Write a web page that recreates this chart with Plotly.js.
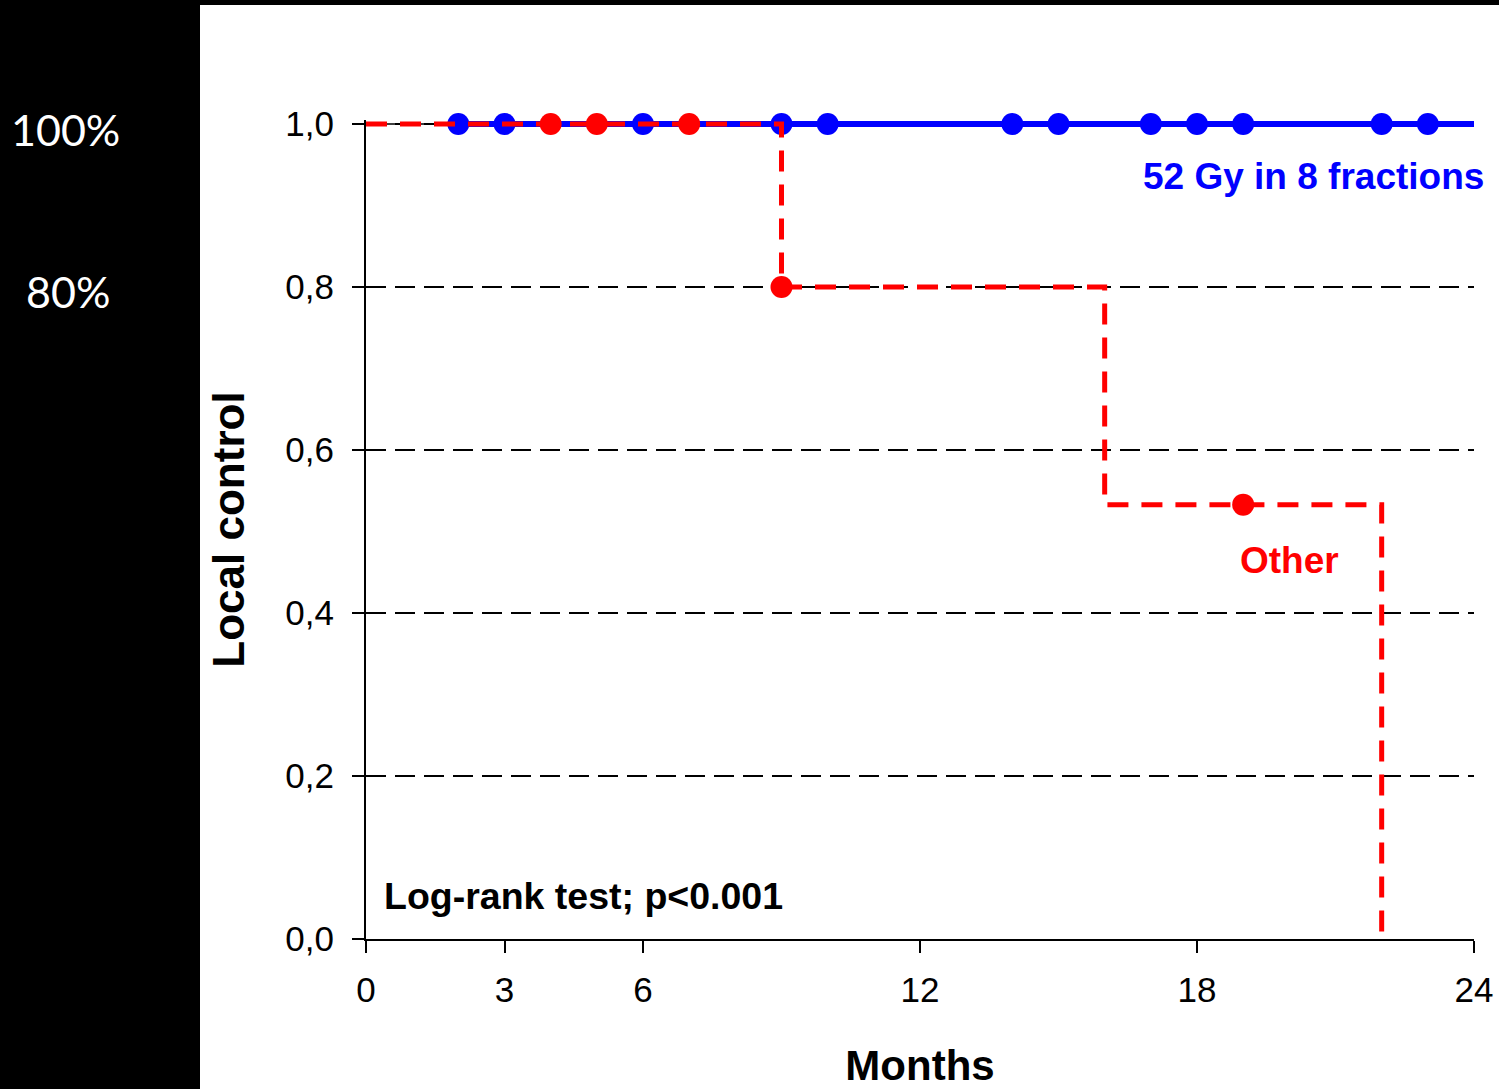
<!DOCTYPE html>
<html>
<head>
<meta charset="utf-8">
<script src="https://cdn.plot.ly/plotly-3.0.1.min.js"></script>
<style>html,body{margin:0;padding:0;background:#000;}#chart{width:1499px;height:1089px;}</style>
</head>
<body>
<div id="chart"></div>
<script>
// ---- data ----
var months = [0, 3, 6, 12, 18, 24];
var monthLabels = ["0", "3", "6", "12", "18", "24"];
var yTicks = [0, 0.2, 0.4, 0.6, 0.8, 1.0];
var yTickLabels = ["0,0", "0,2", "0,4", "0,6", "0,8", "1,0"];

// 52 Gy in 8 fractions: no events, censored times
var blueCensorT = [2, 3, 6, 9, 10, 14, 15, 17, 18, 19, 22, 23];
var blueCensorS = [1, 1, 1, 1, 1, 1, 1, 1, 1, 1, 1, 1];
var blueCurveT = [2, 24];
var blueCurveS = [1.0, 1.0];

// Other: KM step curve
var redCurveT = [0, 9, 16, 22];
var redCurveS = [1.0, 0.8, 0.533, 0.0];
var redCensorT = [4, 5, 7, 9, 19];
var redCensorS = [1.0, 1.0, 1.0, 0.8, 0.533];

var leftLabels = ["100%", "80%"];

// ---- layout helpers (pixel -> paper) ----
var W = 1499, H = 1089;
var mL = 366, mR = 25, mT = 120, mB = 150;
var pw = W - mL - mR, ph = H - mT - mB;
function px(x) { return (x - mL) / pw; }
function py(y) { return (H - mB - y) / ph; }

var FONT = "Liberation Sans, Arial, Helvetica, sans-serif";

var traces = [
  { x: [0, blueCurveT[0]], y: [1, 1], mode: "lines", line: { color: "#000", width: 1.5 }, hoverinfo: "skip", showlegend: false },
  { x: blueCurveT, y: blueCurveS, mode: "lines", line: { color: "#0000FF", width: 6 }, showlegend: false },
  { x: blueCensorT, y: blueCensorS, mode: "markers", marker: { color: "#0000FF", size: 22 }, cliponaxis: false, showlegend: false },
  { x: redCurveT, y: redCurveS, mode: "lines", line: { color: "#FF0000", width: 5, shape: "hv", dash: "21px,13px" }, showlegend: false },
  { x: redCensorT, y: redCensorS, mode: "markers", marker: { color: "#FF0000", size: 22 }, cliponaxis: false, showlegend: false }
];

var layout = {
  width: W, height: H,
  margin: { l: mL, r: mR, t: mT, b: mB, pad: 0 },
  paper_bgcolor: "#000000",
  plot_bgcolor: "#FFFFFF",
  font: { family: FONT, color: "#000" },
  showlegend: false,
  xaxis: {
    range: [0, 24],
    tickvals: months, ticktext: monthLabels,
    showgrid: false, zeroline: false,
    showline: true, linecolor: "#000", linewidth: 2,
    ticks: "outside", ticklen: 12, tickwidth: 2, tickcolor: "#000",
    ticklabelstandoff: 7,
    tickfont: { family: FONT, size: 35, color: "#000" },
    title: { text: "<b>Months</b>", font: { family: FONT, size: 42, color: "#000" }, standoff: 47 },
    fixedrange: true
  },
  yaxis: {
    range: [0, 1.005],
    tickvals: yTicks, ticktext: yTickLabels,
    showgrid: true, gridcolor: "#000", gridwidth: 1.5, griddash: "20px,9px",
    zeroline: false,
    showline: true, linecolor: "#000", linewidth: 2,
    ticks: "outside", ticklen: 12, tickwidth: 2, tickcolor: "#000",
    ticklabelstandoff: 11,
    tickfont: { family: FONT, size: 35, color: "#000" },
    title: { text: "<b>Local control</b>", font: { family: FONT, size: 44, color: "#000" }, standoff: 27 },
    fixedrange: true
  },
  shapes: [
    { type: "rect", xref: "paper", yref: "paper", layer: "below",
      x0: px(200), x1: px(W + 5), y0: py(H + 5), y1: py(5),
      fillcolor: "#FFFFFF", line: { width: 0 } }
  ],
  annotations: [
    { xref: "paper", yref: "paper", x: px(1486), y: py(176), xanchor: "right", yanchor: "middle",
      text: "<b>52 Gy in 8 fractions</b>", showarrow: false,
      font: { family: FONT, size: 37, color: "#0000FF" } },
    { xref: "paper", yref: "paper", x: px(1289), y: py(560), xanchor: "center", yanchor: "middle",
      text: "<b>Other</b>", showarrow: false,
      font: { family: FONT, size: 37, color: "#FF0000" } },
    { xref: "paper", yref: "paper", x: px(382), y: py(896), xanchor: "left", yanchor: "middle",
      text: "<b>Log-rank test; p<0.001</b>", showarrow: false,
      font: { family: FONT, size: 37.5, color: "#000" } },
    { xref: "paper", yref: "paper", x: px(65), y: py(130), xanchor: "center", yanchor: "middle",
      text: leftLabels[0], showarrow: false,
      font: { family: "Lato, Open Sans, sans-serif", size: 43, color: "#FFFFFF" } },
    { xref: "paper", yref: "paper", x: px(68), y: py(291), xanchor: "center", yanchor: "middle",
      text: leftLabels[1], showarrow: false,
      font: { family: "Lato, Open Sans, sans-serif", size: 43, color: "#FFFFFF" } }
  ]
};

Plotly.newPlot("chart", traces, layout, { staticPlot: true, displayModeBar: false });
</script>
</body>
</html>
